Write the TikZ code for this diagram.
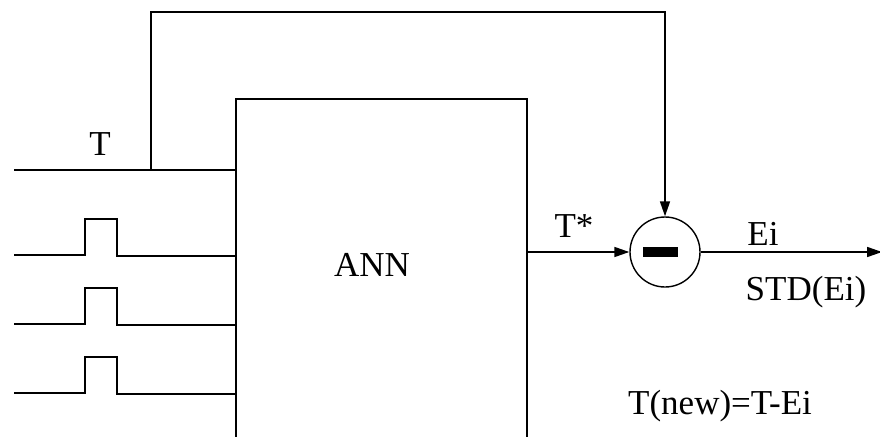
\documentclass[tikz,border=0pt]{standalone}
\usepackage{fontspec}
\setmainfont{Liberation Serif}
\usetikzlibrary{arrows.meta}
\begin{document}
\begin{tikzpicture}[x=1pt,y=-1pt,
  wire/.style={line width=1.6pt},
  arr/.style={wire,-{Triangle[length=15pt,width=10pt]}},
  lbl/.style={font=\fontsize{35}{35}\selectfont,inner sep=0pt}]
\useasboundingbox (0,0) rectangle (880,436);
\clip (0,0) rectangle (880,436);
% ANN box
\draw[wire] (236,440) -- (236,99) -- (527,99) -- (527,440);
\coordinate (boxout) at (527,252);
\node[lbl] (ann) at (372,265) {ANN};
% T input and feedback
\coordinate (tin) at (14,170);
\coordinate (tj) at (151,170);
\coordinate (tbox) at (236,170);
\node[lbl] (tlab) at (100,144) {T};
\draw[wire] (tin) -- (tbox);
% summing junction
\node[circle,draw,line width=1.4pt,minimum size=70pt,inner sep=0pt] (sum) at (665,252) {};
\fill (643,247) rectangle (678,257);
\draw[arr] (tj) -- (151,12) -- (sum.north |- 0,12) -- (sum.north);
% pulse inputs
\foreach \y/\n in {255/a,324/b,393/c}{
  \draw[wire] (14,\y) -- (85,\y) -- (85,\y-36) -- (117,\y-36) -- (117,\y+1) -- (236,\y+1);
}
% output
\draw[arr] (boxout) -- (sum.west);
\node[lbl] (tstar) at (574,226) {T*};
\coordinate (out) at (882,252);
\draw[arr] (sum.east) -- (out);
\node[lbl] (ei) at (763,234) {Ei};
\node[lbl] (std) at (806,292) {STD(Ei)};
\node[lbl] (tnew) at (720,406) {T(new)=T-Ei};
\end{tikzpicture}
\end{document}
